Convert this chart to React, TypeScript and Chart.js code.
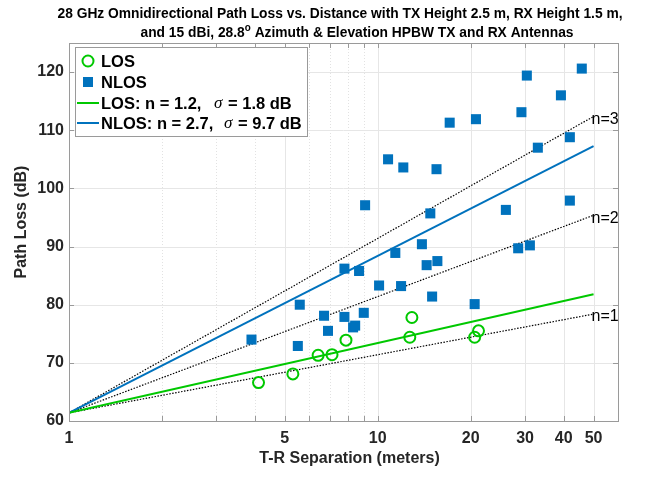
import { useEffect, useRef } from 'react';
import { Chart, registerables } from 'chart.js';

Chart.register(...registerables);

// Measured path loss (dB) versus T-R separation (m)
const LOS_DIST = [4.11, 5.31, 6.41, 7.11, 7.89, 12.9, 12.7, 20.6, 21.2];
const LOS_PL = [66.6, 68.1, 71.3, 71.4, 73.9, 77.8, 74.4, 74.4, 75.5];

const NLOS_DIST = [
  3.9, 5.51, 5.59, 6.7, 6.9, 7.8, 7.8, 8.32, 8.45, 8.7, 9.01, 9.1, 10.1, 10.8, 11.4, 11.9, 12.1, 13.9,
  14.4, 14.8, 15.0, 15.5, 15.6, 17.1, 20.6, 20.8, 26.0, 28.5, 29.2, 30.4, 31.1, 33.0, 39.2, 41.9, 41.9, 45.8,
];
const NLOS_PL = [
  74.0, 72.9, 80.0, 78.1, 75.5, 86.2, 77.9, 76.1, 76.4, 85.8, 78.6, 97.1, 83.3, 105.0, 88.9, 83.2, 103.6, 90.4,
  86.8, 95.7, 81.4, 103.3, 87.5, 111.3, 80.1, 111.9, 96.3, 89.7, 113.1, 119.4, 90.2, 107.0, 116.0, 108.8, 97.9, 120.6,
];

// Close-in free space reference model: PL(d) = FSPL(1 m) + 10 n log10(d)
const FSPL_1M = 61.4;
const LOS_N = 1.2;
const LOS_SIGMA = 1.8;
const NLOS_N = 2.7;
const NLOS_SIGMA = 9.7;
const REF_N = [1, 2, 3];
const LINE_RANGE = [1, 50];

const X_TICKS = [1, 2, 3, 4, 5, 6, 7, 8, 9, 10, 20, 30, 40, 50];
const X_LABELS = [1, 5, 10, 20, 30, 40, 50];
const Y_TICKS = [60, 70, 80, 90, 100, 110, 120];

const TITLE_LINE1 = '28 GHz Omnidirectional Path Loss vs. Distance with TX Height 2.5 m, RX Height 1.5 m,';
const TITLE_LINE2_A = 'and 15 dBi, 28.8';
const TITLE_LINE2_SUP = 'o';
const TITLE_LINE2_B = ' Azimuth & Elevation HPBW TX and RX Antennas';
const X_TITLE = 'T-R Separation (meters)';
const Y_TITLE = 'Path Loss (dB)';

const GREEN = '#00C800';
const BLUE = '#0072BD';
const TEXT = '#262626';
const AXIS = '#9a9a9a';
const FONT = '"Liberation Sans", Arial, sans-serif';

const model = (n: number) => LINE_RANGE.map((d) => ({ x: d, y: FSPL_1M + 10 * n * Math.log10(d) }));
const pts = (xs: number[], ys: number[]) => xs.map((x, i) => ({ x, y: ys[i] }));

const decorations = {
  id: 'decorations',
  beforeDatasetsDraw(chart: any) {
    const { ctx, chartArea: a, scales } = chart;
    const sx = scales.x;
    const sy = scales.y;
    ctx.save();
    ctx.lineWidth = 1;
    X_TICKS.forEach((v) => {
      const x = Math.round(sx.getPixelForValue(v)) + 0.5;
      const major = X_LABELS.includes(v);
      ctx.strokeStyle = major ? '#e6e6e6' : '#e2e2e2';
      ctx.setLineDash(major ? [] : [1, 2]);
      ctx.beginPath();
      ctx.moveTo(x, a.top);
      ctx.lineTo(x, a.bottom);
      ctx.stroke();
    });
    ctx.setLineDash([]);
    ctx.strokeStyle = '#e6e6e6';
    Y_TICKS.forEach((v) => {
      const y = Math.round(sy.getPixelForValue(v)) + 0.5;
      ctx.beginPath();
      ctx.moveTo(a.left, y);
      ctx.lineTo(a.right, y);
      ctx.stroke();
    });
    ctx.restore();
  },
  afterDatasetsDraw(chart: any) {
    const { ctx, chartArea: a, scales } = chart;
    const sx = scales.x;
    const sy = scales.y;
    ctx.save();
    // axes box and inward tick marks
    ctx.strokeStyle = AXIS;
    ctx.lineWidth = 1;
    ctx.strokeRect(Math.round(a.left) + 0.5, Math.round(a.top) + 0.5, Math.round(a.right - a.left), Math.round(a.bottom - a.top));
    X_TICKS.forEach((v) => {
      const x = Math.round(sx.getPixelForValue(v)) + 0.5;
      ctx.beginPath();
      ctx.moveTo(x, a.bottom);
      ctx.lineTo(x, a.bottom - 5);
      ctx.moveTo(x, a.top);
      ctx.lineTo(x, a.top + 5);
      ctx.stroke();
    });
    Y_TICKS.forEach((v) => {
      const y = Math.round(sy.getPixelForValue(v)) + 0.5;
      ctx.beginPath();
      ctx.moveTo(a.left, y);
      ctx.lineTo(a.left + 5, y);
      ctx.moveTo(a.right, y);
      ctx.lineTo(a.right - 5, y);
      ctx.stroke();
    });

    // labels at the ends of the reference exponent lines
    ctx.fillStyle = '#000';
    ctx.font = `16px ${FONT}`;
    ctx.textAlign = 'left';
    ctx.textBaseline = 'middle';
    const dEnd = LINE_RANGE[1];
    REF_N.forEach((n) => {
      const x = sx.getPixelForValue(dEnd) - 2;
      const y = sy.getPixelForValue(FSPL_1M + 10 * n * Math.log10(dEnd)) + 3;
      ctx.fillText(`n=${n}`, x, y);
    });

    // legend
    const lx = 75.5;
    const ly = 47.5;
    const lw = 232;
    const lh = 89;
    ctx.fillStyle = '#fff';
    ctx.fillRect(lx, ly, lw, lh);
    ctx.strokeStyle = AXIS;
    ctx.strokeRect(lx, ly, lw, lh);
    const rows = [61, 82, 103, 123];
    const mx = 88;
    const tx = 101;
    // LOS marker
    ctx.strokeStyle = GREEN;
    ctx.lineWidth = 2;
    ctx.beginPath();
    ctx.arc(mx, rows[0], 5.5, 0, Math.PI * 2);
    ctx.stroke();
    // NLOS marker
    ctx.fillStyle = BLUE;
    ctx.fillRect(mx - 5, rows[1] - 5, 10, 10);
    // line samples
    ctx.lineWidth = 2;
    ctx.strokeStyle = GREEN;
    ctx.beginPath();
    ctx.moveTo(77, rows[2]);
    ctx.lineTo(99, rows[2]);
    ctx.stroke();
    ctx.strokeStyle = BLUE;
    ctx.beginPath();
    ctx.moveTo(77, rows[3]);
    ctx.lineTo(99, rows[3]);
    ctx.stroke();

    const bold = `bold 16.5px ${FONT}`;
    const sigmaFont = `italic 17px "Liberation Serif", "DejaVu Serif", serif`;
    ctx.fillStyle = '#000';
    ctx.textBaseline = 'middle';
    ctx.font = bold;
    ctx.fillText('LOS', tx, rows[0] + 1);
    ctx.fillText('NLOS', tx, rows[1] + 1);
    const fitRow = (label: string, sigmaX: number, rest: string, restX: number, y: number) => {
      ctx.font = bold;
      ctx.fillText(label, tx, y + 1);
      ctx.font = sigmaFont;
      ctx.fillText('\u03C3', sigmaX, y + 1);
      ctx.font = bold;
      ctx.fillText(rest, restX, y + 1);
    };
    fitRow(`LOS: n = ${LOS_N},`, 214, `= ${LOS_SIGMA} dB`, 228, rows[2]);
    fitRow(`NLOS: n = ${NLOS_N},`, 224, `= ${NLOS_SIGMA} dB`, 238, rows[3]);
    ctx.restore();
  },
  afterDraw(chart: any) {
    const { ctx, chartArea: a } = chart;
    ctx.save();
    ctx.fillStyle = '#000';
    ctx.textBaseline = 'middle';
    // title
    const cx = 340;
    const tf = `bold 14px ${FONT}`;
    ctx.font = tf;
    ctx.textAlign = 'left';
    const w1 = ctx.measureText(TITLE_LINE1).width;
    const sc = 565 / w1;
    ctx.save();
    ctx.translate(cx - 565 / 2, 14);
    ctx.scale(sc, 1);
    ctx.fillText(TITLE_LINE1, 0, 0);
    ctx.restore();
    const wa = ctx.measureText(TITLE_LINE2_A).width * sc;
    const wb = ctx.measureText(TITLE_LINE2_B).width * sc;
    ctx.font = `bold 10px ${FONT}`;
    const ws = ctx.measureText(TITLE_LINE2_SUP).width * sc;
    const total = wa + ws + wb;
    let x0 = 357 - total / 2;
    ctx.save();
    ctx.translate(x0, 33);
    ctx.scale(sc, 1);
    ctx.font = tf;
    ctx.fillText(TITLE_LINE2_A, 0, 0);
    ctx.restore();
    x0 += wa;
    ctx.save();
    ctx.translate(x0, 28);
    ctx.scale(sc, 1);
    ctx.font = `bold 10px ${FONT}`;
    ctx.fillText(TITLE_LINE2_SUP, 0, 0);
    ctx.restore();
    x0 += ws;
    ctx.save();
    ctx.translate(x0, 33);
    ctx.scale(sc, 1);
    ctx.font = tf;
    ctx.fillText(TITLE_LINE2_B, 0, 0);
    ctx.restore();

    // axis titles
    ctx.fillStyle = TEXT;
    ctx.textAlign = 'center';
    ctx.font = `bold 16px ${FONT}`;
    ctx.fillText(X_TITLE, (a.left + a.right) / 2 + 6, 459);
    ctx.save();
    ctx.translate(22, 222);
    ctx.rotate(-Math.PI / 2);
    ctx.fillText(Y_TITLE, 0, 0);
    ctx.restore();
    ctx.restore();
  },
};

export default function App() {
  const ref = useRef<HTMLCanvasElement | null>(null);

  useEffect(() => {
    if (!ref.current) return;
    const chart = new Chart(ref.current, {
      type: 'scatter',
      data: {
        datasets: [
          {
            label: `LOS: n = ${LOS_N}`,
            data: model(LOS_N),
            showLine: true,
            borderColor: GREEN,
            borderWidth: 2,
            pointRadius: 0,
            order: 1,
          },
          {
            label: `NLOS: n = ${NLOS_N}`,
            data: model(NLOS_N),
            showLine: true,
            borderColor: BLUE,
            borderWidth: 2,
            pointRadius: 0,
            order: 2,
          },
          {
            label: 'LOS',
            data: pts(LOS_DIST, LOS_PL),
            pointStyle: 'circle',
            pointRadius: 5.5,
            borderWidth: 2,
            borderColor: GREEN,
            backgroundColor: 'rgba(0,0,0,0)',
            order: 3,
          },
          {
            label: 'NLOS',
            data: pts(NLOS_DIST, NLOS_PL),
            pointStyle: 'rect',
            pointRadius: 7.1,
            borderWidth: 0,
            borderColor: BLUE,
            backgroundColor: BLUE,
            order: 4,
          },
          ...REF_N.map((n) => ({
            label: `n=${n}`,
            data: model(n),
            showLine: true,
            borderColor: '#000',
            borderWidth: 1.2,
            borderDash: [1.5, 1.5],
            pointRadius: 0,
            order: 5,
          })),
        ],
      },
      options: {
        responsive: false,
        animation: false,
        events: [],
        layout: { padding: { left: 0, right: 37, top: 43, bottom: 0 } },
        plugins: {
          legend: { display: false },
          title: { display: false },
          tooltip: { enabled: false },
        },
        scales: {
          x: {
            type: 'logarithmic',
            min: 1,
            max: 60,
            grid: { display: false, drawTicks: false },
            border: { display: false },
            afterBuildTicks: (s: any) => {
              s.ticks = X_TICKS.map((v) => ({ value: v }));
            },
            afterFit: (s: any) => {
              s.height = 56;
            },
            ticks: {
              autoSkip: false,
              maxRotation: 0,
              padding: 8,
              color: TEXT,
              font: { family: FONT, weight: 'bold', size: 16 },
              callback: (v: any) => (X_LABELS.includes(Number(v)) ? String(v) : ''),
            },
          },
          y: {
            type: 'linear',
            min: 60,
            max: 125,
            grid: { display: false, drawTicks: false },
            border: { display: false },
            afterBuildTicks: (s: any) => {
              s.ticks = Y_TICKS.map((v) => ({ value: v }));
            },
            afterFit: (s: any) => {
              s.width = 69;
            },
            ticks: {
              padding: 5,
              color: TEXT,
              font: { family: FONT, weight: 'bold', size: 16 },
              callback: (v: any) => String(v),
            },
          },
        },
      },
      plugins: [decorations],
    } as any);
    return () => chart.destroy();
  }, []);

  return (
    <div style={{ position: 'absolute', left: 0, top: 0, width: 655, height: 477, background: '#fff' }}>
      <canvas ref={ref} width={655} height={477} style={{ display: 'block' }} />
    </div>
  );
}
